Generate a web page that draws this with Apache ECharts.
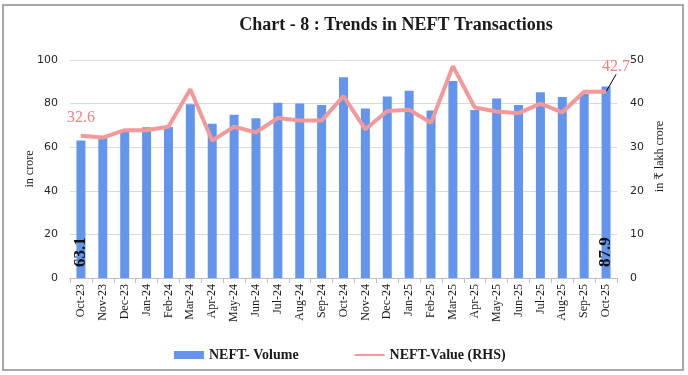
<!DOCTYPE html>
<html><head><meta charset="utf-8">
<script src="https://cdn.jsdelivr.net/npm/echarts@6/dist/echarts.min.js"></script>
<style>html,body{margin:0;padding:0;background:#fff}#c{width:688px;height:375px}</style>
</head><body><div id="c"></div>
<script>
const categories = ['Oct-23','Nov-23','Dec-23','Jan-24','Feb-24','Mar-24','Apr-24','May-24','Jun-24','Jul-24','Aug-24','Sep-24','Oct-24','Nov-24','Dec-24','Jan-25','Feb-25','Mar-25','Apr-25','May-25','Jun-25','Jul-25','Aug-25','Sep-25','Oct-25'];
const volume = [63.1,64.4,67.4,69.1,69.3,79.7,70.7,74.9,73.3,80.4,80.1,79.4,92.1,77.8,83.3,85.9,76.8,90.4,77.1,82.3,79.4,85.2,83.0,84.4,87.9];
const value = [32.6,32.2,33.9,33.9,34.7,43.3,31.5,34.7,33.4,36.7,36.1,36.1,41.7,34.1,38.3,38.6,35.6,48.6,39.1,38.2,37.8,40.0,38.0,42.7,42.7];
const leftTicks = [0,20,40,60,80,100];
const rightTicks = [0,10,20,30,40,50];

const last = categories.length - 1;
const serif = '"Liberation Serif", "DejaVu Serif", serif';
const sans = '"DejaVu Sans", Verdana, sans-serif';
const lineLabel = {show:true, position:'top', distance:10, fontFamily:serif, fontSize:16, color:'#F08080'};

const chart = echarts.init(document.getElementById('c'));
chart.setOption({
  animation: false,
  graphic: [{type:'rect', shape:{x:3, y:5, width:680, height:365}, style:{fill:'none', stroke:'#8c8c8c', lineWidth:1.5}, silent:true}],
  title: {text:'Chart - 8 : Trends in NEFT Transactions', left:391, top:11, textAlign:'center',
    textStyle:{fontFamily:serif, fontWeight:'bold', fontSize:18, color:'#1a1a1a'}},
  legend: {bottom:8, left:169, itemGap:55, itemWidth:30, itemHeight:8,
    textStyle:{fontFamily:serif, fontWeight:'bold', fontSize:14, color:'#1a1a1a'},
    data:[{name:'NEFT- Volume', icon:'rect'}, {name:'NEFT-Value (RHS)', itemStyle:{opacity:0}}]},
  grid: {left:70, right:71, top:60, bottom:97},
  xAxis: {type:'category', data:categories, boundaryGap:true,
    axisLine:{lineStyle:{color:'#bfbfbf'}},
    axisTick:{show:true, length:5, lineStyle:{color:'#bfbfbf'}},
    axisLabel:{rotate:90, fontFamily:serif, fontSize:12, color:'#1a1a1a', margin:6, interval:0}},
  yAxis: [
    {type:'value', min:0, max:100, interval:20, name:'in crore', nameLocation:'middle', nameRotate:90, nameGap:34, nameMoveOverlap:false,
      nameTextStyle:{fontFamily:serif, fontSize:12, color:'#1a1a1a'},
      axisLine:{show:false}, axisTick:{show:false},
      axisLabel:{fontFamily:sans, fontSize:11, color:'#262626', margin:12, formatter:v=>leftTicks.includes(v)?String(v):''},
      splitLine:{lineStyle:{color:'#d9d9d9'}}},
    {type:'value', min:0, max:50, interval:10, name:'in ₹ lakh crore', nameLocation:'middle', nameRotate:90, nameGap:37, nameMoveOverlap:false,
      nameTextStyle:{fontFamily:serif, fontSize:12, color:'#1a1a1a', padding:[0,0,0,25]},
      axisLine:{show:false}, axisTick:{show:false},
      axisLabel:{fontFamily:sans, fontSize:11, color:'#262626', margin:13, formatter:v=>rightTicks.includes(v)?String(v):''},
      splitLine:{show:false}}
  ],
  series: [
    {name:'NEFT- Volume', type:'bar', yAxisIndex:0, barWidth:9, itemStyle:{color:'#6495ED'},
      data: volume.map((v,i)=> (i===0||i===last) ? {value:v, label:{show:true, position:'insideBottom', rotate:90, distance:11,
        align:'left', verticalAlign:'middle', formatter:'{c}', fontFamily:serif, fontWeight:'bold', fontSize:17, color:'#111'}} : v)},
    {name:'NEFT-Value (RHS)', type:'line', yAxisIndex:1, symbol:'none', lineStyle:{color:'#F4999A', width:4}, itemStyle:{color:'#F4999A'},
      labelLayout: p => p.dataIndex===last ? {dx:10, dy:-7} : null,
      data: value.map((v,i)=> i===0 ? {value:v, symbol:'circle', symbolSize:1, label:lineLabel}
        : i===last ? {value:v, symbol:'circle', symbolSize:1, label:lineLabel,
            labelLine:{show:true, lineStyle:{color:'#000', width:1}}} : v)}
  ]
});
</script></body></html>
